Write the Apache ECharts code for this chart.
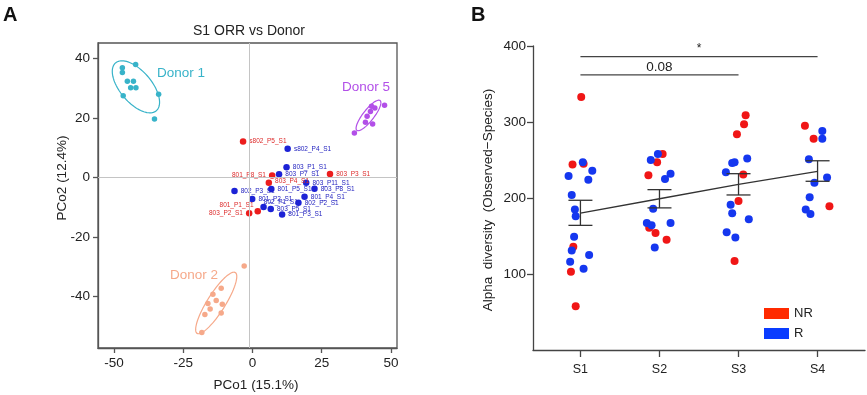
<!DOCTYPE html>
<html>
<head>
<meta charset="utf-8">
<script src="https://cdn.jsdelivr.net/npm/echarts@6/dist/echarts.min.js"></script>
<style>html,body{margin:0;padding:0;background:#fff}#c{width:867px;height:395px}</style>
</head>
<body>
<div id="c"></div>
<script>
// ---------- Panel A data (PCoA coordinates) ----------
const donor1 = [[-47.0,36.8],[-47.0,35.2],[-42.2,37.9],[-45.2,32.3],[-43.0,32.3],[-44.0,30.1],[-42.1,30.1],[-46.7,27.4],[-33.9,27.9],[-35.4,19.6]];
const donor2 = [[-3.0,-29.7],[-11.3,-37.2],[-14.3,-39.2],[-13.1,-41.3],[-16.1,-42.3],[-15.3,-44.1],[-10.9,-42.5],[-17.2,-46.0],[-11.3,-45.5],[-18.3,-52.0]];
const donor5 = [[36.8,14.9],[40.8,18.5],[41.4,20.5],[42.6,22.1],[43.0,23.9],[44.2,23.3],[43.4,17.9],[47.7,24.2]];
const patientsNR = [
  ['s802_P5_S1',-3.4,12.1],['801_P8_S1',7.1,0.7],['803_P3_S1',28.0,1.2],
  ['803_P4_S1',5.9,-1.8],['801_P1_S1',1.9,-11.3],['803_P2_S1',-1.2,-12.0]
];
const patientsR = [
  ['s802_P4_S1',12.7,9.6],['803_P1_S1',12.3,3.4],['803_P7_S1',9.6,1.1],['803_P11_S1',19.4,-1.8],
  ['802_P3_S1',-6.5,-4.5],['801_P5_S1',6.8,-3.9],['803_P8_S1',22.4,-3.8],['801_P2_S1',-0.1,-7.2],
  ['801_P4_S1',18.8,-6.5],['802_P1_S1',4.0,-9.9],['802_P2_S1',16.6,-8.5],['803_P5_S1',6.6,-10.6],['801_P3_S1',10.7,-12.4]
];
// ellipses: [centerX, centerY, axis1X, axis1Y, axis2X, axis2Y]
const ellipses = [
  [-42.1,30.4,7.36,-8.02,-4.33,-3.44],
  [-13.1,-42.1,6.9,10.2,2.75,-1.6],
  [41.9,20.8,4.2,5.0,1.56,-1.14]
];
const pcoXTicks = [-50,-25,0,25,50];
const pcoYTicks = [-40,-20,0,20,40];
const refLineX = -1.3, refLineY = 0;

// ---------- Panel B data (alpha diversity) ----------
const stages = ['S1','S2','S3','S4'];
// [jitter offset from stage position, value]
const nrS1 = [[0.01,333],[-0.10,244],[0.04,245],[-0.09,136],[-0.12,103],[-0.06,57.5]];
const nrS2 = [[0.04,258],[-0.03,247],[-0.14,230],[-0.13,161],[-0.05,154],[0.09,145]];
const nrS3 = [[0.09,309],[0.07,297],[-0.02,284],[0.06,231],[0.0,196],[-0.05,117]];
const nrS4 = [[-0.16,295],[-0.05,278],[0.15,189]];
const rS1 = [[0.03,247],[-0.15,229],[0.15,236],[0.10,224],[-0.11,204],[-0.07,185],[-0.06,176],[-0.08,149],[-0.11,131],[-0.13,116],[0.11,125],[0.04,107]];
const rS2 = [[-0.11,250],[-0.02,258],[0.14,232],[0.07,225],[-0.08,186],[-0.16,167],[-0.10,164],[0.14,167],[-0.06,135]];
const rS3 = [[-0.05,247],[-0.08,246],[0.11,252],[-0.16,234],[-0.10,191],[-0.08,180],[0.13,172],[-0.15,155],[-0.04,148]];
const rS4 = [[0.06,288],[0.06,278],[-0.11,251],[0.12,227],[-0.04,220],[-0.10,201],[-0.15,185],[-0.09,179]];
const means = [180,199,218,235];
const semLow = [164,187,204,222];
const semHigh = [197,211,232,249];
const bracketFrom = [1,1];
const bracketTo = [4,3];
const bracketY = [386,362];
const bracketLabels = ['*','0.08'];
const alphaTicks = [100,200,300,400];

// ---------- styling ----------
const FONT = "'Liberation Sans', Arial, Helvetica, sans-serif";
const cRedA = '#ec1d1d', cBlueA = '#1c22d6';
const cRedB = '#f01616', cBlueB = '#1537ef';
const cD1 = '#38b3c9', cD2 = '#f6a98a', cD5 = '#b24fe8';
const ellipseColors = [cD1, cD2, cD5];
const labelStyleOverride = {
  '801_P8_S1': {position:'left', distance:3},
  '803_P2_S1': {position:'left', distance:3},
  '801_P1_S1': {position:'left', distance:1, offset:[0,-6]},
  '802_P1_S1': {position:'right', distance:0, offset:[-3,-5]},
  '803_P4_S1': {position:'right', distance:3, offset:[0,-2]}
};

function patientItems(list){
  return list.map(p => {
    const item = {name:p[0], value:[p[1],p[2]]};
    if (labelStyleOverride[p[0]]) item.label = labelStyleOverride[p[0]];
    return item;
  });
}
function stagePoints(groups){
  const out = [];
  groups.forEach((g,i) => g.forEach(p => out.push([i+1+p[0], p[1]])));
  return out;
}

const chart = echarts.init(document.getElementById('c'), null, {renderer:'canvas'});
const axisLineA = {lineStyle:{color:'#555', width:1.3}};
const axisLineB = {lineStyle:{color:'#444', width:1.3}};

const option = {
  animation:false,
  textStyle:{fontFamily:FONT},
  grid:[
    {left:98, top:43, width:299, height:305, show:true, borderColor:'#555', borderWidth:1.3, backgroundColor:'transparent'},
    {left:533, top:46, width:332, height:304}
  ],
  xAxis:[
    {gridIndex:0, type:'value', min:-55.8, max:52.2,
     axisLine:Object.assign({onZero:false}, axisLineA),
     axisTick:{customValues:pcoXTicks, length:5, lineStyle:{color:'#555', width:1.3}},
     axisLabel:{customValues:pcoXTicks, color:'#222', fontSize:13.5, margin:8, fontFamily:FONT},
     splitLine:{show:false}},
    {gridIndex:1, type:'value', min:0.4, max:4.6,
     axisLine:Object.assign({onZero:false}, axisLineB),
     axisTick:{customValues:[1,2,3,4], length:7, lineStyle:{color:'#444', width:1.3}},
     axisLabel:{customValues:[1,2,3,4], formatter:v => stages[Math.round(v)-1] || '', color:'#222', fontSize:12.5, margin:13, fontFamily:FONT},
     splitLine:{show:false}}
  ],
  yAxis:[
    {gridIndex:0, type:'value', min:-57.2, max:45.1,
     axisLine:Object.assign({onZero:false}, axisLineA),
     axisTick:{customValues:pcoYTicks, length:5, lineStyle:{color:'#555', width:1.3}},
     axisLabel:{customValues:pcoYTicks, color:'#222', fontSize:13.5, margin:8, fontFamily:FONT},
     splitLine:{show:false}},
    {gridIndex:1, type:'value', min:0, max:400,
     axisLine:Object.assign({onZero:false}, axisLineB),
     axisTick:{customValues:alphaTicks, length:6, lineStyle:{color:'#444', width:1.3}},
     axisLabel:{customValues:alphaTicks, color:'#222', fontSize:13.5, margin:7, fontFamily:FONT},
     splitLine:{show:false}}
  ],
  legend:{
    data:[{name:'NR', itemStyle:{color:'#ff2a00', opacity:1}},{name:'R', itemStyle:{color:'#0a3cff', opacity:1}}],
    orient:'vertical', left:759, top:302, itemWidth:25, itemHeight:11, itemGap:7, icon:'rect',
    textStyle:{fontSize:13, color:'#222', fontFamily:FONT}, selectedMode:false
  },
  graphic:[
    {type:'text', x:3, y:5, style:{text:'A', font:'bold 20px '+FONT, fill:'#111'}},
    {type:'text', x:471, y:5, style:{text:'B', font:'bold 20px '+FONT, fill:'#111'}},
    {type:'text', x:249, y:31, style:{text:'S1 ORR vs Donor', font:'14px '+FONT, fill:'#222', align:'center', verticalAlign:'middle', textAlign:'center', textVerticalAlign:'middle'}},
    {type:'text', x:256, y:385, style:{text:'PCo1 (15.1%)', font:'13.5px '+FONT, fill:'#222', align:'center', verticalAlign:'middle', textAlign:'center', textVerticalAlign:'middle'}},
    {type:'text', x:62, y:178, rotation:Math.PI/2, style:{text:'PCo2 (12.4%)', font:'13.5px '+FONT, fill:'#222', align:'center', verticalAlign:'middle', textAlign:'center', textVerticalAlign:'middle'}},
    {type:'text', x:488, y:200, rotation:Math.PI/2, style:{text:'Alpha  diversity  (Observed\u2212Species)', font:'13.5px '+FONT, fill:'#222', align:'center', verticalAlign:'middle', textAlign:'center', textVerticalAlign:'middle'}},
    {type:'text', x:157, y:73, style:{text:'Donor 1', font:'13.5px '+FONT, fill:cD1, verticalAlign:'middle', textVerticalAlign:'middle'}},
    {type:'text', x:342, y:87, style:{text:'Donor 5', font:'13.5px '+FONT, fill:cD5, verticalAlign:'middle', textVerticalAlign:'middle'}},
    {type:'text', x:170, y:275, style:{text:'Donor 2', font:'13.5px '+FONT, fill:cD2, verticalAlign:'middle', textVerticalAlign:'middle'}}
  ],
  series:[
    // reference lines
    {type:'scatter', xAxisIndex:0, yAxisIndex:0, data:[], z:1,
     markLine:{silent:true, symbol:'none', label:{show:false}, lineStyle:{color:'#c4c4c4', width:1, type:'solid'},
       data:[{xAxis:refLineX},{yAxis:refLineY}]}},
    // ellipses
    {type:'custom', xAxisIndex:0, yAxisIndex:0, z:2, silent:true,
     encode:{x:0, y:1},
     data:ellipses,
     renderItem:function(params, api){
       const cx=api.value(0), cy=api.value(1), ux=api.value(2), uy=api.value(3), vx=api.value(4), vy=api.value(5);
       const pts=[];
       for(let i=0;i<=90;i++){
         const t=i/90*2*Math.PI;
         pts.push(api.coord([cx+ux*Math.cos(t)+vx*Math.sin(t), cy+uy*Math.cos(t)+vy*Math.sin(t)]));
       }
       return {type:'polyline', shape:{points:pts}, style:{stroke:ellipseColors[params.dataIndex], fill:null, lineWidth:1.2}};
     }},
    {name:'Donor 1', type:'scatter', xAxisIndex:0, yAxisIndex:0, z:3, symbolSize:5.5, itemStyle:{color:cD1, opacity:1}, data:donor1},
    {name:'Donor 2', type:'scatter', xAxisIndex:0, yAxisIndex:0, z:3, symbolSize:5.5, itemStyle:{color:cD2, opacity:1}, data:donor2},
    {name:'Donor 5', type:'scatter', xAxisIndex:0, yAxisIndex:0, z:3, symbolSize:5.5, itemStyle:{color:cD5, opacity:1}, data:donor5},
    {name:'NR patients', type:'scatter', xAxisIndex:0, yAxisIndex:0, z:4, symbolSize:6.5, itemStyle:{color:cRedA, opacity:1},
     label:{show:true, position:'right', distance:3, formatter:'{b}', fontSize:6.5, color:'#dd2a2a', fontFamily:FONT},
     data:patientItems(patientsNR)},
    {name:'R patients', type:'scatter', xAxisIndex:0, yAxisIndex:0, z:4, symbolSize:6.5, itemStyle:{color:cBlueA, opacity:1},
     label:{show:true, position:'right', distance:3, formatter:'{b}', fontSize:6.5, color:'#2424c0', fontFamily:FONT},
     data:patientItems(patientsR)},
    // Panel B
    {name:'NR', type:'scatter', xAxisIndex:1, yAxisIndex:1, z:3, symbolSize:8, itemStyle:{color:cRedB, opacity:1},
     data:stagePoints([nrS1,nrS2,nrS3,nrS4])},
    {name:'R', type:'scatter', xAxisIndex:1, yAxisIndex:1, z:3, symbolSize:8, itemStyle:{color:cBlueB, opacity:1},
     data:stagePoints([rS1,rS2,rS3,rS4])},
    {name:'mean', type:'line', xAxisIndex:1, yAxisIndex:1, z:5, symbol:'none', silent:true,
     lineStyle:{color:'#333', width:1.3}, data:means.map((m,i)=>[i+1,m])},
    {name:'sem', type:'custom', xAxisIndex:1, yAxisIndex:1, z:5, silent:true,
     encode:{x:0, y:[1,2]},
     data:means.map((m,i)=>[i+1, semLow[i], semHigh[i]]),
     renderItem:function(params, api){
       const x=api.value(0);
       const pl=api.coord([x, api.value(1)]), ph=api.coord([x, api.value(2)]);
       const hw=12, st={stroke:'#333', lineWidth:1.3};
       return {type:'group', children:[
         {type:'line', shape:{x1:pl[0],y1:pl[1],x2:ph[0],y2:ph[1]}, style:st},
         {type:'line', shape:{x1:pl[0]-hw,y1:pl[1],x2:pl[0]+hw,y2:pl[1]}, style:st},
         {type:'line', shape:{x1:ph[0]-hw,y1:ph[1],x2:ph[0]+hw,y2:ph[1]}, style:st}
       ]};
     }},
    {name:'brackets', type:'custom', xAxisIndex:1, yAxisIndex:1, z:5, silent:true,
     encode:{x:[0,1], y:2},
     data:bracketFrom.map((f,i)=>[f, bracketTo[i], bracketY[i]]),
     renderItem:function(params, api){
       const a=api.coord([api.value(0), api.value(2)]), b=api.coord([api.value(1), api.value(2)]);
       const lab=bracketLabels[params.dataIndex];
       const big = lab.length>1;
       return {type:'group', children:[
         {type:'line', shape:{x1:a[0],y1:a[1],x2:b[0],y2:b[1]}, style:{stroke:'#444', lineWidth:1.3}},
         {type:'text', x:(a[0]+b[0])/2, y:a[1]-(big?1:2), style:{text:lab, font:(big?'13.5px ':'12px ')+FONT, fill:'#222',
           align:'center', verticalAlign:'bottom', textAlign:'center', textVerticalAlign:'bottom'}}
       ]};
     }}
  ]
};
chart.setOption(option);
</script>
</body>
</html>
